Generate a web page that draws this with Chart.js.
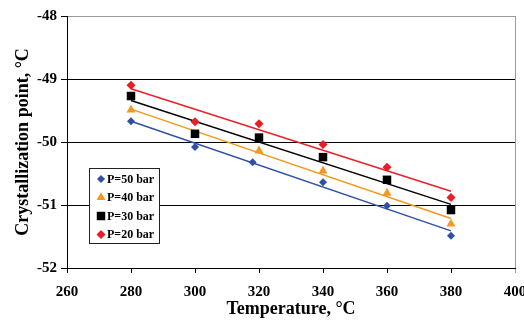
<!DOCTYPE html>
<html>
<head>
<meta charset="utf-8">
<script src="https://cdn.jsdelivr.net/npm/chart.js@4"></script>
<style>
  html, body { margin: 0; padding: 0; background: #fff; }
  canvas { display: block; }
</style>
</head>
<body>
<canvas id="c" width="524" height="325"></canvas>
<script>
// ---- Data ----
const temps = [280, 300, 320, 340, 360, 380];
const tempsP50 = [280, 300, 318, 340, 360, 380];
const p50 = [-49.67, -50.08, -50.32, -50.64, -51.01, -51.49];
const p40 = [-49.49, -49.88, -50.14, -50.46, -50.81, -51.30];
const p30 = [-49.27, -49.87, -49.93, -50.24, -50.60, -51.08];
const p20 = [-49.10, -49.68, -49.71, -50.04, -50.40, -50.88];
const seriesLabels = ['P=50 bar', 'P=40 bar', 'P=30 bar', 'P=20 bar'];
const xTicks = [260, 280, 300, 320, 340, 360, 380, 400];
const yTicks = [-52, -51, -50, -49, -48];

const FONT = '"Liberation Serif", "Times New Roman", serif';

function pts(xs, ys) { return xs.map((x, i) => ({ x: x, y: ys[i] })); }
// least-squares trendline (as in the original spreadsheet trendlines)
function trend(xs, ys) {
  const n = xs.length;
  const mx = xs.reduce((a, b) => a + b, 0) / n;
  const my = ys.reduce((a, b) => a + b, 0) / n;
  let sxy = 0, sxx = 0;
  for (let i = 0; i < n; i++) { sxy += (xs[i] - mx) * (ys[i] - my); sxx += (xs[i] - mx) ** 2; }
  const b = sxy / sxx, a = my - b * mx;
  const x0 = xs[0], x1 = xs[n - 1];
  return [{ x: x0, y: a + b * x0 }, { x: x1, y: a + b * x1 }];
}

const series = [
  { label: seriesLabels[0], xs: tempsP50, ys: p50, color: '#2E4FA3', line: '#3050A8', style: 'rectRot', r: 4, order: 4 },
  { label: seriesLabels[1], xs: temps, ys: p40, color: '#F4991F', line: '#F4991F', style: 'triangle', r: 5.2, order: 3 },
  { label: seriesLabels[2], xs: temps, ys: p30, color: '#000000', line: '#000000', style: 'rect', r: 6, order: 2 },
  { label: seriesLabels[3], xs: temps, ys: p20, color: '#EC1C24', line: '#EC2028', style: 'rectRot', r: 4.5, order: 1 }
];

const datasets = [];
series.forEach(s => {
  datasets.push({
    label: s.label, data: pts(s.xs, s.ys), showLine: false,
    pointStyle: s.style, pointRadius: s.r, pointHoverRadius: s.r,
    backgroundColor: s.color, borderColor: s.color, pointBorderWidth: 0,
    order: s.order
  });
});
series.forEach((s, i) => {
  datasets.push({
    label: s.label + ' trend', data: trend(s.xs, s.ys), showLine: true,
    pointRadius: 0, borderColor: s.line, borderWidth: 1.5, backgroundColor: s.line,
    order: 10 + i
  });
});

const legendPlugin = {
  id: 'boxLegend',
  afterDraw(chart) {
    const ctx = chart.ctx;
    const x = 89.5, y = 168.5, w = 70, h = 75;
    ctx.save();
    ctx.fillStyle = '#fff';
    ctx.fillRect(x, y, w, h);
    ctx.strokeStyle = '#222';
    ctx.lineWidth = 1;
    ctx.strokeRect(x, y, w, h);
    ctx.font = 'bold 12px ' + FONT;
    ctx.textBaseline = 'middle';
    ctx.textAlign = 'left';
    series.forEach((s, i) => {
      const cy = 179 + i * 18.5;
      ctx.fillStyle = s.color;
      ctx.strokeStyle = s.color;
      Chart.helpers.drawPoint(ctx, { pointStyle: s.style, rotation: 0, borderWidth: 0, radius: s.r }, 101, cy);
      ctx.fillStyle = '#000';
      ctx.fillText(s.label, 107, cy + 0.5);
    });
    ctx.restore();
  }
};

new Chart(document.getElementById('c'), {
  type: 'scatter',
  data: { datasets: datasets },
  options: {
    responsive: false,
    animation: false,
    devicePixelRatio: 1,
    layout: { padding: { top: 16, right: 9, left: 0, bottom: 0 } },
    plugins: { legend: { display: false }, tooltip: { enabled: false } },
    scales: {
      x: {
        type: 'linear', min: 260, max: 400,
        afterBuildTicks: sc => { sc.ticks = xTicks.map(v => ({ value: v })); },
        afterFit: sc => { sc.height = 57; sc.paddingRight = 0; sc.paddingLeft = 0; },
        border: { display: true, color: '#000', width: 1 },
        grid: {
          drawOnChartArea: true, drawTicks: true, tickLength: 5,
          color: c => (c.tick && c.tick.value === 400) ? '#9a9a9a' : 'rgba(0,0,0,0)',
          tickColor: c => (c.tick && c.tick.value === 400) ? '#9a9a9a' : '#000',
          lineWidth: 1
        },
        ticks: { color: '#000', padding: 10.5, maxRotation: 0, autoSkip: false, font: { family: FONT, size: 15, weight: 'bold' } },
        title: { display: true, text: 'Temperature, °C', color: '#000', padding: { top: 0, bottom: 5 }, font: { family: FONT, size: 18, weight: 'bold' } }
      },
      y: {
        type: 'linear', min: -52, max: -48,
        afterBuildTicks: sc => { sc.ticks = yTicks.map(v => ({ value: v })); },
        afterFit: sc => { sc.width = 67; sc.paddingTop = 0; sc.paddingBottom = 0; },
        border: { display: true, color: '#000', width: 1 },
        grid: {
          drawOnChartArea: true, drawTicks: true, tickLength: 6,
          color: c => (c.tick && c.tick.value === -48) ? '#9a9a9a' : '#000',
          tickColor: '#000',
          lineWidth: 1
        },
        ticks: { color: '#000', padding: 4, font: { family: FONT, size: 15, weight: 'bold' } },
        title: { display: true, text: 'Crystallization point, °C', color: '#000', padding: { top: 13, bottom: 0 }, font: { family: FONT, size: 18, weight: 'bold' } }
      }
    }
  },
  plugins: [legendPlugin]
});
</script>
</body>
</html>
